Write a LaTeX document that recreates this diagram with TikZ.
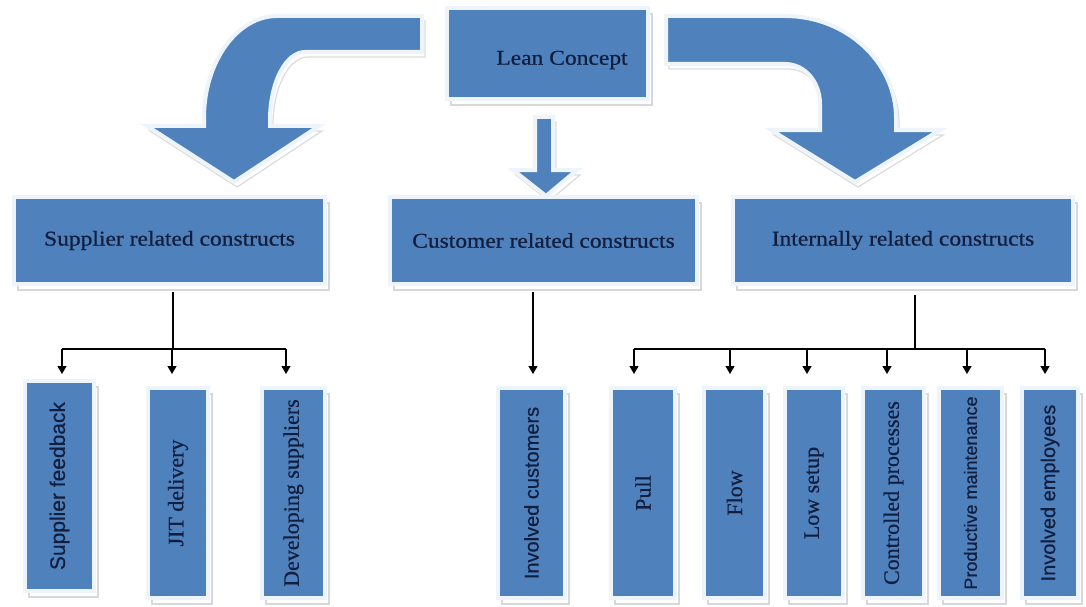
\documentclass[tikz,border=0pt]{standalone}
\usepackage{fontspec}
\setmainfont{Liberation Serif}
\newfontfamily\widefont[FakeStretch=1.12,FakeBold=0.7]{Liberation Serif}
\newfontfamily\vserif[FakeBold=0.5]{Liberation Serif}
\newfontfamily\armfont[FakeBold=0.5]{Liberation Sans}
\usetikzlibrary{shadows,arrows.meta,calc}
\definecolor{boxblue}{RGB}{79,129,189}
\definecolor{txtnavy}{RGB}{18,30,62}
\definecolor{rimwhite}{RGB}{238,244,251}
\tikzset{
  bluebox/.style={rectangle, fill=boxblue, draw=rimwhite, line width=4pt, inner sep=0pt,
    text=txtnavy,
    drop shadow={shadow xshift=4pt, shadow yshift=-6pt, fill=white, draw=gray!60, line width=1.4pt}},
  bluearrow/.style={fill=boxblue, draw=rimwhite, line width=4pt, line join=miter,
    drop shadow={shadow xshift=3pt, shadow yshift=-5pt, fill=white, draw=gray!55, line width=1.2pt}},
  conn/.style={draw=black, line width=1.3pt},
  tiparrow/.style={conn, -{Triangle[width=9pt,length=8pt]}},
  toplabel/.style={font=\widefont\fontsize{21}{25}\selectfont},
}
\newcommand\mybox[6]{\node[bluebox, minimum width={#4-#2}, minimum height={#5-#3}] (#1) at ({(#2+#4)/2},{(#3+#5)/2}) {#6};}
\newcommand\serv[1]{\rotatebox{90}{\vserif\fontsize{22}{26}\selectfont #1}}
\newcommand\sanv[2]{\rotatebox{90}{\armfont\fontsize{#1}{#1}\selectfont #2}}
\begin{document}
\begin{tikzpicture}[x=1pt,y=-1pt]
\useasboundingbox (0,0) rectangle (1086,607);
\fill[white] (0,0) rectangle (1086,607);

% block arrows
\filldraw[bluearrow] (422,16) -- (277,16) .. controls (237,16) and (204,62) .. (204,118)
  -- (204,126) -- (147,126) -- (234,182) -- (319,126) -- (270,126) -- (270,120)
  .. controls (270,82) and (286,52) .. (305,52) -- (422,52) -- cycle;
\filldraw[bluearrow] (666,16) -- (785,16) .. controls (846,16) and (896,62) .. (896,118)
  -- (896,130) -- (940,130) -- (855,182) -- (771,130) -- (820,130) -- (820,104)
  .. controls (820,82) and (805,64) .. (785,64) -- (666,64) -- cycle;
\filldraw[bluearrow] (535,117) -- (553,117) -- (553,170) -- (577,170) -- (546,196)
  -- (513,170) -- (535,170) -- cycle;

% top box
\mybox{lean}{447}{8}{648}{99}{}
\node[toplabel, text=txtnavy] (leantxt) at (562,60) {Lean Concept};

% second level
\mybox{sup}{14}{197}{325}{284}{\widefont\fontsize{21}{25}\selectfont Supplier related constructs}
\mybox{cus}{390}{197}{697}{284}{\widefont\fontsize{21}{25}\selectfont Customer related constructs}
\mybox{int}{733}{197}{1073}{284}{\widefont\fontsize{21}{25}\selectfont Internally related constructs}

% bottom level
\mybox{sf}{25}{381}{94}{591}{\sanv{21}{Supplier feedback}}
\mybox{jit}{148}{388}{208}{598}{\serv{JIT delivery}}
\mybox{dev}{262}{388}{325}{598}{\serv{Developing suppliers}}
\mybox{ic}{498}{388}{565}{598}{\sanv{20}{Involved customers}}
\mybox{pull}{611}{388}{675}{598}{\serv{Pull}}
\mybox{flow}{704}{388}{765}{598}{\serv{Flow}}
\mybox{low}{785}{388}{843}{598}{\serv{Low setup}}
\mybox{ctrl}{863}{388}{924}{598}{\serv{Controlled processes}}
\mybox{prod}{939}{388}{1002}{598}{\sanv{18}{Productive maintenance}}
\mybox{emp}{1022}{388}{1078}{598}{\sanv{20}{Involved employees}}

% connectors
\coordinate (bar) at (0,349);
\coordinate (sst) at (173,0);
\coordinate (a1) at (62,374);
\coordinate (a2) at (172,374);
\coordinate (a3) at (286,374);
\coordinate (c1) at (533,374);
\coordinate (ist) at (915,0);
\coordinate (b1) at (634,374);
\coordinate (b2) at (730,374);
\coordinate (b3) at (807,374);
\coordinate (b4) at (887,374);
\coordinate (b5) at (967,374);
\coordinate (b6) at (1045,374);

\draw[conn, shorten <=6pt] (sup.south -| sst) -- (sst |- bar);
\draw[conn] (a1 |- bar) -- (a3 |- bar);
\foreach \c in {a1,a2,a3} \draw[tiparrow] (\c |- bar) -- (\c);

\draw[tiparrow, shorten <=6pt] (cus.south -| c1) -- (c1);

\draw[conn, shorten <=9pt] (int.south -| ist) -- (ist |- bar);
\draw[conn] (b1 |- bar) -- (b6 |- bar);
\foreach \c in {b1,b2,b3,b4,b5,b6} \draw[tiparrow] (\c |- bar) -- (\c);
\end{tikzpicture}
\end{document}
